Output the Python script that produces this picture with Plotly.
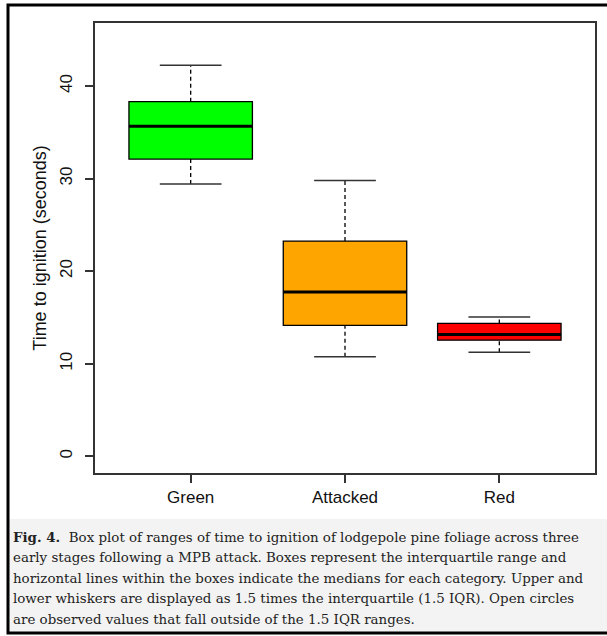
import plotly.graph_objects as go

# ---- data ----
categories = ["Green", "Attacked", "Red"]
lower_whisker = [29.4, 10.75, 11.25]
q1 = [32.1, 14.15, 12.55]
median = [35.65, 17.75, 13.15]
q3 = [38.3, 23.25, 14.35]
upper_whisker = [42.25, 29.8, 15.05]
fill_colors = ["#00ff00", "#ffa500", "#ff0000"]
y_ticks = [0, 10, 20, 30, 40]

caption_lines = [
    "<b>Fig. 4.</b>  Box plot of ranges of time to ignition of lodgepole pine foliage across three",
    "early stages following a MPB attack. Boxes represent the interquartile range and",
    "horizontal lines within the boxes indicate the medians for each category. Upper and",
    "lower whiskers are displayed as 1.5 times the interquartile (1.5 IQR). Open circles",
    "are observed values that fall outside of the 1.5 IQR ranges.",
]

# ---- geometry / style ----
W, H = 607, 636
L, R, T, B = 95, 12, 23, 163
PW, PH = W - L - R, H - T - B
BOX_W = 0.8
CAP_W = 0.4


def px_x(px):
    return (px - L) / PW


def px_y(py):
    return (H - B - py) / PH


fig = go.Figure()
positions = list(range(1, len(categories) + 1))

for i, pos in enumerate(positions):
    fig.add_trace(go.Box(
        x=[pos], q1=[q1[i]], median=[median[i]], q3=[q3[i]],
        lowerfence=[q1[i]], upperfence=[q3[i]],
        width=BOX_W, whiskerwidth=0,
        fillcolor=fill_colors[i],
        line=dict(color="black", width=1.3),
        boxpoints=False, hoverinfo="skip", showlegend=False,
    ))
    # dashed whiskers
    for a, b in ((q3[i], upper_whisker[i]), (lower_whisker[i], q1[i])):
        fig.add_trace(go.Scatter(
            x=[pos, pos], y=[a, b], mode="lines",
            line=dict(color="black", width=1.3, dash="4px,3px"),
            showlegend=False, hoverinfo="skip",
        ))
    # staples
    for v in (upper_whisker[i], lower_whisker[i]):
        fig.add_trace(go.Scatter(
            x=[pos - CAP_W / 2, pos + CAP_W / 2], y=[v, v], mode="lines",
            line=dict(color="#333333", width=1.5),
            showlegend=False, hoverinfo="skip",
        ))
    # thick median
    fig.add_trace(go.Scatter(
        x=[pos - BOX_W / 2, pos + BOX_W / 2], y=[median[i], median[i]],
        mode="lines", line=dict(color="black", width=3),
        showlegend=False, hoverinfo="skip",
    ))

axis_font = dict(family="Liberation Sans, Arial, sans-serif", color="#111111")

fig.update_xaxes(
    range=[0.38, 3.62], tickvals=positions, ticktext=categories,
    showgrid=False, zeroline=False,
    showline=True, mirror=True, linecolor="#333333", linewidth=1.5,
    ticks="outside", ticklen=8, tickcolor="#333333", tickwidth=1.5,
    tickfont=dict(size=17, **axis_font),
)
fig.update_yaxes(
    range=[-1.8, 46.8], tickvals=y_ticks, tickangle=-90,
    showgrid=False, zeroline=False,
    showline=True, mirror=True, linecolor="#333333", linewidth=1.5,
    ticks="outside", ticklen=8, tickcolor="#333333", tickwidth=1.5,
    tickfont=dict(size=17, **axis_font), ticklabelstandoff=6,
    title=dict(text="Time to ignition (seconds)", font=dict(size=18, **axis_font), standoff=6),
)

shapes = [
    # caption background
    dict(type="rect", xref="paper", yref="paper", layer="below",
         x0=px_x(9), x1=px_x(640), y0=px_y(632), y1=px_y(519),
         fillcolor="#f3f3f3", line=dict(width=0)),
    # outer frame (its right edge lies beyond the picture, as in the reference)
    dict(type="rect", xref="paper", yref="paper", layer="above",
         x0=px_x(8), x1=px_x(650), y0=px_y(633), y1=px_y(5),
         line=dict(color="black", width=3)),
]

annotations = []
line_y = [537, 557.5, 578, 598.5, 619]
for txt, yy in zip(caption_lines, line_y):
    annotations.append(dict(
        text=txt, xref="paper", yref="paper", x=px_x(11), y=px_y(yy),
        xanchor="left", yanchor="middle", showarrow=False, align="left",
        font=dict(family="DejaVu Serif, serif", size=13.4, color="#222222"),
    ))

fig.update_layout(
    width=W, height=H,
    margin=dict(l=L, r=R, t=T, b=B, autoexpand=False),
    paper_bgcolor="white", plot_bgcolor="white",
    shapes=shapes, annotations=annotations,
    boxmode="overlay",
)

fig.write_html("out.html", config={"displayModeBar": False},
               post_script="document.body.style.margin='0';")
